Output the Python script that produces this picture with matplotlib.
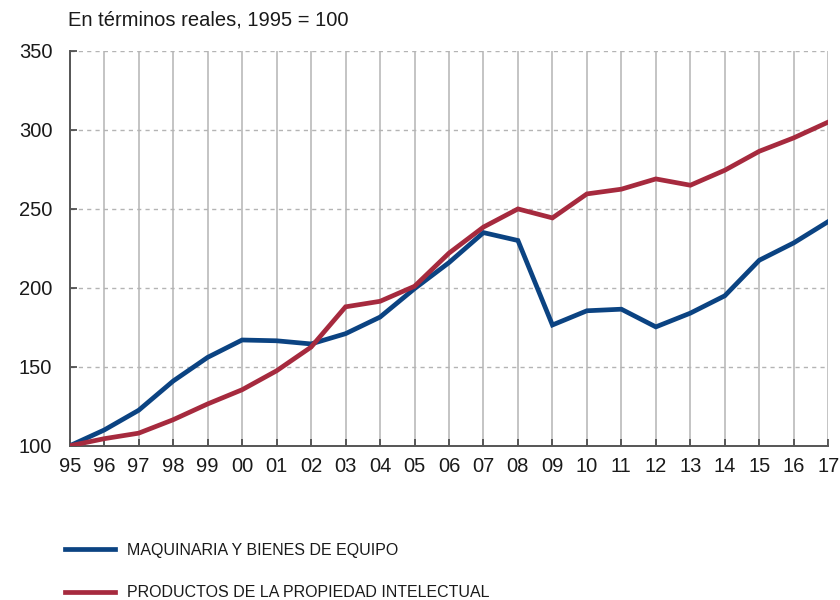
import matplotlib.pyplot as plt
from matplotlib import font_manager

# years shown as two-digit labels
years = ['95', '96', '97', '98', '99', '00', '01', '02', '03', '04', '05', '06',
         '07', '08', '09', '10', '11', '12', '13', '14', '15', '16', '17']

# Maquinaria y bienes de equipo (1995 = 100)
maquinaria = [100, 110, 122.5, 141, 156, 167, 166.5, 164.5, 171, 181.5, 199.5, 216,
              235, 230, 176.5, 185.5, 186.5, 175.3, 184, 195, 217.5, 228.5, 242]

# Productos de la propiedad intelectual (1995 = 100)
propiedad = [100, 104.5, 108, 116.5, 126.5, 135.5, 147.5, 162.5, 188, 191.5, 201, 222,
             238.5, 250, 244.3, 259.5, 262.5, 269, 265, 274.5, 286.5, 295, 305]

blue = '#0b4382'
red = '#a62a3e'

names = {f.name for f in font_manager.fontManager.ttflist}
narrow = 'Liberation Sans Narrow' if 'Liberation Sans Narrow' in names else 'Liberation Sans'
plt.rcParams['font.family'] = ['Liberation Sans', 'DejaVu Sans']

fig = plt.figure(figsize=(8.4, 6), dpi=100)
ax = fig.add_axes([0.083, 0.257, 0.903, 0.658])

x = list(range(len(years)))
l1, = ax.plot(x, maquinaria, color=blue, lw=3.4, solid_joinstyle='miter',
              label='MAQUINARIA Y BIENES DE EQUIPO', zorder=3)
l2, = ax.plot(x, propiedad, color=red, lw=3.4, solid_joinstyle='miter',
              label='PRODUCTOS DE LA PROPIEDAD INTELECTUAL', zorder=3)

ax.set_xlim(0, len(years) - 1)
ax.set_ylim(100, 350)
ax.set_xticks(x)
ax.set_xticklabels(years)
ax.set_yticks([100, 150, 200, 250, 300, 350])

ax.grid(axis='x', color='#b4b4b4', lw=1.1, ls='-')
ax.grid(axis='y', color='#b4b4b4', lw=1.0, ls=(0, (3, 3)))
ax.set_axisbelow(True)

for s in ['top', 'right']:
    ax.spines[s].set_visible(False)
for s in ['left', 'bottom']:
    ax.spines[s].set_color('#555555')
    ax.spines[s].set_linewidth(1.4)

ax.tick_params(axis='both', direction='in', length=5, width=1.2, color='#444444',
               labelsize=14.5, labelcolor='#1a1a1a')
ax.tick_params(axis='x', pad=8)
ax.tick_params(axis='y', pad=12.5)

fig.text(68 / 840, 1 - 20 / 600, 'En términos reales, 1995 = 100', fontsize=14.5,
         color='#1a1a1a', va='center', ha='left')

leg = fig.legend(handles=[l1, l2], loc='upper left', bbox_to_anchor=(65 / 840, 1 - 543 / 600),
                 frameon=False, handlelength=3.1, handletextpad=0.8, labelspacing=1.7,
                 borderpad=0, borderaxespad=0,
                 prop={'family': narrow, 'size': 11.5})
for t in leg.get_texts():
    t.set_color('#1a1a1a')

fig.savefig('out.png', dpi=100)
